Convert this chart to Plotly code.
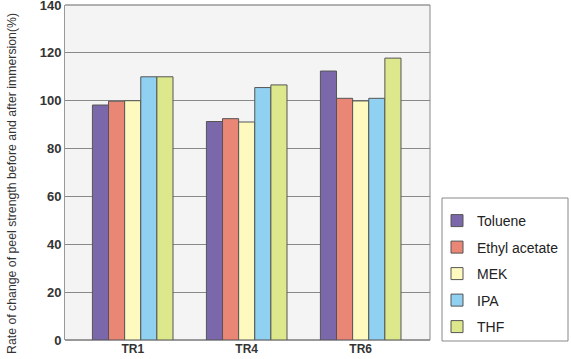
import plotly.graph_objects as go

categories = ["TR1", "TR4", "TR6"]
series_names = ["Toluene", "Ethyl acetate", "MEK", "IPA", "THF"]
toluene = [98.2, 91.3, 112.4]
ethyl_acetate = [99.8, 92.5, 101.0]
mek = [100.0, 91.1, 99.9]
ipa = [110.0, 105.5, 101.0]
thf = [110.0, 106.6, 117.8]
y_ticks = [0, 20, 40, 60, 80, 100, 120, 140]

values = [toluene, ethyl_acetate, mek, ipa, thf]
colors = ["#7b68aa", "#ea8676", "#fefabf", "#90d0f1", "#dde78b"]

ML, MR, MT, MB = 65, 141, 5, 19
W, H = 571, 359
pw = W - ML - MR
ph = H - MT - MB


def px_x(x):
    return (x - ML) / pw


def px_y(y):
    return (H - MB - y) / ph


fig = go.Figure()
for i, (name, vals, col) in enumerate(zip(series_names, values, colors)):
    fig.add_trace(go.Bar(
        x=categories, y=vals, name=name,
        marker=dict(color=col, line=dict(color="#555555", width=1)),
        legendgroup=name,
    ))

fig.update_layout(
    width=W, height=H,
    margin=dict(l=ML, r=MR, t=MT, b=MB, autoexpand=False),
    paper_bgcolor="white",
    plot_bgcolor="#f3f4f3",
    barmode="group",
    bargap=0.293,
    bargroupgap=0,
    font=dict(family="Liberation Sans, Arial, sans-serif", color="#333333"),
    showlegend=True,
    legend=dict(
        x=px_x(437), xanchor="left", y=px_y(205), yanchor="top",
        borderwidth=0, bgcolor="rgba(0,0,0,0)",
        font=dict(size=14, color="#222222"),
        tracegroupgap=5.3,
        traceorder="grouped",
    ),
    xaxis=dict(
        range=[-0.594, 2.608],
        showline=False, showgrid=False, ticks="",
        tickfont=dict(size=12, weight="bold", color="#333333"),
        ticklabeloverflow="allow",
    ),
    yaxis=dict(
        range=[0, 140], tickvals=y_ticks, ticktext=[str(t) for t in y_ticks],
        showgrid=True, gridcolor="#888888", gridwidth=1,
        zeroline=True, zerolinecolor="#999999",
        showline=True, linecolor="#999999", mirror=False,
        tickfont=dict(size=13, weight="bold", color="#333333"),
        ticks="", ticklabeloverflow="allow",
    ),
    annotations=[dict(
        text="Rate of change of peel strength before and after immersion(%)",
        textangle=-90, x=px_x(12), xref="paper", y=px_y(184), yref="paper",
        xanchor="center", yanchor="middle",
        showarrow=False, font=dict(size=12.3, color="#333333"),
    )],
    shapes=[
        dict(type="line", xref="paper", yref="paper", x0=0, x1=1, y0=1, y1=1,
             line=dict(color="#999999", width=1.5)),
        dict(type="line", xref="paper", yref="paper", x0=1, x1=1, y0=0, y1=1,
             line=dict(color="#888888", width=1)),
        dict(type="rect", xref="paper", yref="paper",
             x0=px_x(442), x1=px_x(568), y0=px_y(341), y1=px_y(198),
             line=dict(color="#888888", width=1), fillcolor="rgba(0,0,0,0)", layer="above"),
    ],
)

fig.write_html("out.html", config={"displayModeBar": False},
               post_script="document.body.style.margin='0';")
